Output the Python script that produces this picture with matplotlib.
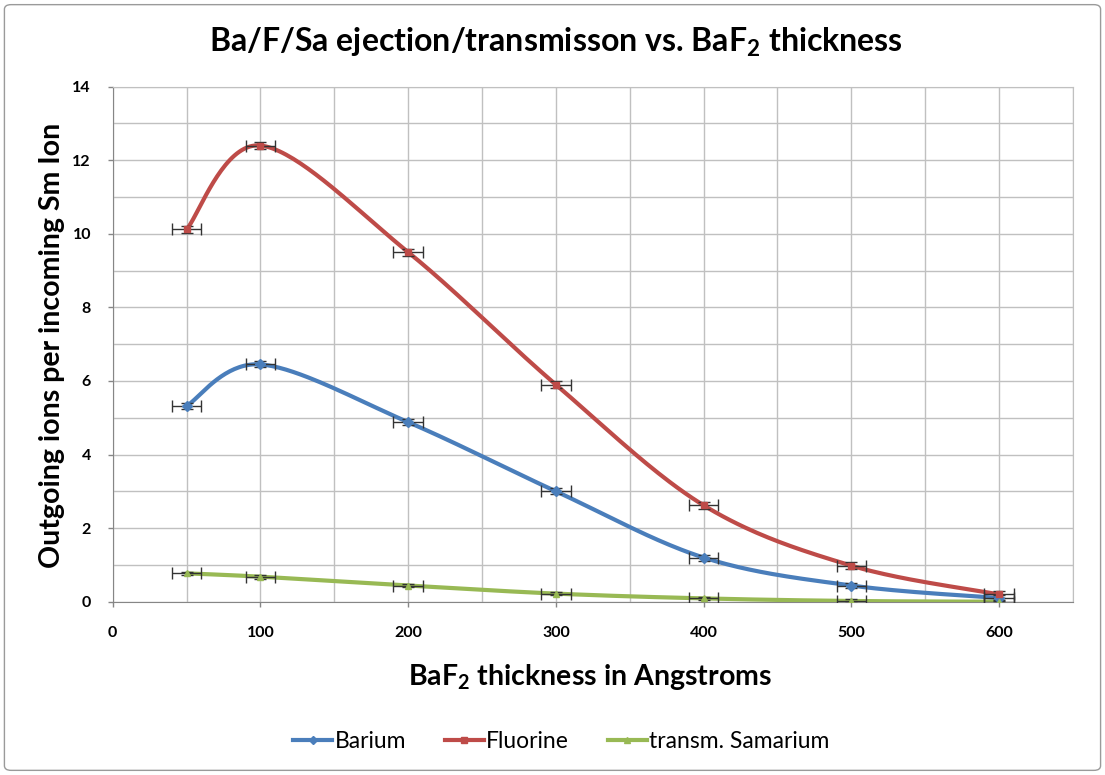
import numpy as np
import matplotlib
matplotlib.use("Agg")
import matplotlib.pyplot as plt
from matplotlib.lines import Line2D
from matplotlib.patches import FancyBboxPatch

plt.rcParams['font.family'] = ['Lato', 'DejaVu Sans']
plt.rcParams['mathtext.fontset'] = 'custom'
plt.rcParams['mathtext.rm'] = 'Lato'
plt.rcParams['mathtext.bf'] = 'Lato:bold'

thickness = [50, 100, 200, 300, 400, 500, 600]
barium = [5.32, 6.45, 4.88, 3.0, 1.2, 0.44, 0.1]
fluorine = [10.12, 12.4, 9.5, 5.9, 2.62, 0.98, 0.2]
samarium = [0.77, 0.68, 0.44, 0.22, 0.09, 0.02, 0.0]
x_err = 10
y_err = {"Barium": 0.08, "Fluorine": 0.1, "transm. Samarium": 0.05}

series = [
    ("Barium", barium, "#4A7EBB", "D"),
    ("Fluorine", fluorine, "#BE4B48", "s"),
    ("transm. Samarium", samarium, "#98B954", "^"),
]


def smooth(xs, ys, n=40):
    """Bezier smoothing through every point (tension 1/6 of neighbour span)."""
    xs = np.asarray(xs, float)
    ys = np.asarray(ys, float)
    px, py = [], []
    m = len(xs)
    for i in range(m - 1):
        x0, y0 = xs[i], ys[i]
        x3, y3 = xs[i + 1], ys[i + 1]
        xp, yp = (xs[i - 1], ys[i - 1]) if i > 0 else (x0, y0)
        xn, yn = (xs[i + 2], ys[i + 2]) if i + 2 < m else (x3, y3)
        x1, y1 = x0 + (x3 - xp) / 6, y0 + (y3 - yp) / 6
        x2, y2 = x3 - (xn - x0) / 6, y3 - (yn - y0) / 6
        t = np.linspace(0, 1, n)
        b0, b1, b2, b3 = (1 - t) ** 3, 3 * t * (1 - t) ** 2, 3 * t ** 2 * (1 - t), t ** 3
        px.append(b0 * x0 + b1 * x1 + b2 * x2 + b3 * x3)
        py.append(b0 * y0 + b1 * y1 + b2 * y2 + b3 * y3)
    return np.concatenate(px), np.concatenate(py)


fig = plt.figure(figsize=(11.05, 7.75), dpi=100)
fig.patch.set_facecolor("white")
fig.patches.append(FancyBboxPatch((0.004, 0.006), 0.992, 0.988,
                                  boxstyle="round,pad=0,rounding_size=0.006",
                                  transform=fig.transFigure, fill=False,
                                  edgecolor="#9a9a9a", linewidth=1.0))

ax = fig.add_axes([0.102, 0.2236, 0.869, 0.6646])

for name, vals, color, mk in series:
    sx, sy = smooth(thickness, vals)
    ax.plot(sx, sy, color=color, linewidth=3.0, zorder=3, solid_capstyle="round")
    ax.errorbar(thickness, vals, xerr=x_err, yerr=y_err[name], fmt="none",
                ecolor="#333333", elinewidth=1.0, capsize=4, capthick=1.0, zorder=4)
    ax.plot(thickness, vals, linestyle="none", marker=mk, markersize=5,
            color=color, zorder=5)

ax.set_xlim(0, 650)
ax.set_ylim(0, 14)
ax.set_xticks(np.arange(0, 601, 100))
ax.set_xticks(np.arange(0, 651, 50), minor=True)
ax.set_yticks(np.arange(0, 15, 2))
ax.set_yticks(np.arange(0, 15, 1), minor=True)
ax.grid(which="both", color="#c0c0c0", linewidth=1.0)
ax.tick_params(which="minor", length=0)
ax.tick_params(which="major", direction="out", length=3.6, width=1.0,
               color="#868686", labelsize=11.5)
ax.tick_params(axis="x", which="major", pad=14)
ax.tick_params(axis="y", which="major", pad=12)
for lab in ax.get_xticklabels() + ax.get_yticklabels():
    lab.set_fontweight("bold")
for side in ["top", "right"]:
    ax.spines[side].set_color("#c0c0c0")
for side in ["left", "bottom"]:
    ax.spines[side].set_color("#868686")
ax.set_axisbelow(True)

fig.text(0.503, 0.945, r"Ba/F/Sa ejection/transmisson vs. BaF$_\mathbf{2}$ thickness",
         ha="center", va="center", fontsize=23, fontweight="bold")
fig.text(0.534, 0.126, r"BaF$_\mathbf{2}$ thickness in Angstroms",
         ha="center", va="center", fontsize=20.5, fontweight="bold")
fig.text(0.047, 0.555, "Outgoing ions per incoming Sm Ion", rotation=90,
         ha="center", va="center", fontsize=20.5, fontweight="bold")

handles = [Line2D([0], [0], color=c, linewidth=3, marker=m, markersize=4)
           for _, _, c, m in series]
fig.legend(handles, [s[0] for s in series], loc="center",
           bbox_to_anchor=(0.508, 0.043), ncol=3, frameon=False,
           fontsize=16.5, handlelength=1.7, handletextpad=0.1, columnspacing=1.7)

fig.savefig("out.png", dpi=100)
